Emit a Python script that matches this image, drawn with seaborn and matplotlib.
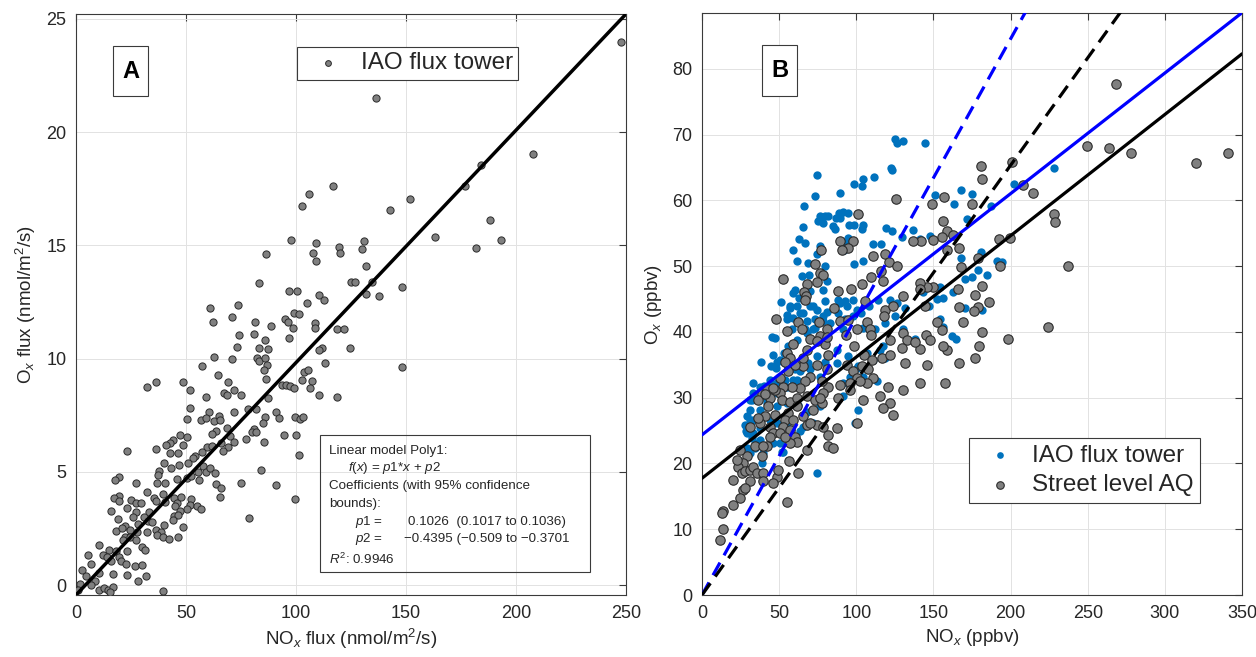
import numpy as np
import pandas as pd
import seaborn as sns
import matplotlib
matplotlib.use("Agg")
import matplotlib.pyplot as plt
from matplotlib.patches import Rectangle

# ---- panel A: flux tower, NOx flux vs Ox flux (nmol/m2/s) ----
flux_nox = [
    74.3, 80.7, 85.7, 97.0, 73.1, 83.0, 87.2, 62.5, 71.1, 82.2,
    83.4, 85.7, 57.2, 86.8, 85.3, 64.5, 86.3, 69.3, 48.5, 36.2,
    32.4, 51.7, 71.6, 67.2, 68.6, 75.2, 59.3, 87.2, 93.6, 95.6,
    97.4, 99.2, 103.8, 105.3, 102.7, 107.3, 106.5, 51.8, 60.4, 71.6,
    78.0, 81.9, 50.3, 56.9, 59.1, 62.9, 64.8, 65.5, 90.9, 92.1,
    86.0, 84.8, 99.7, 101.7, 103.3, 68.6, 63.7, 62.0, 47.3, 50.3,
    44.3, 42.7, 48.8, 40.9, 80.7, 80.0, 81.8, 77.2, 85.4, 94.4,
    100.2, 70.2, 71.6, 69.3, 66.6, 66.0, 59.6, 61.7, 57.2, 54.1,
    53.1, 51.1, 23.4, 36.2, 42.6, 46.4, 39.8, 43.2, 47.0, 37.9,
    37.4, 37.0, 40.5, 46.1, 50.3, 52.1, 55.6, 55.9, 57.6, 59.1,
    60.7, 63.4, 84.2, 101.2, 63.8, 66.0, 65.5, 75.1, 90.9, 99.7,
    78.6, 19.5, 17.8, 27.4, 32.4, 19.6, 17.2, 19.5, 25.1, 27.2,
    29.7, 35.6, 36.2, 39.7, 40.3, 44.4, 46.1, 47.7, 52.1, 51.8,
    50.3, 54.9, 56.9, 45.2, 47.3, 44.7, 46.2, 16.1, 23.3, 27.2,
    33.2, 26.0, 19.0, 31.0, 32.6, 34.4, 40.0, 44.3, 48.5, 28.3,
    22.4, 18.1, 20.7, 24.5, 27.5, 32.1, 36.2, 38.5, 36.7, 39.4,
    42.3, 46.5, 22.4, 21.5, 24.5, 27.1, 30.1, 31.5, 10.4, 15.1,
    18.0, 12.3, 13.9, 16.0, 5.5, 7.0, 16.6, 19.5, 23.0, 20.6,
    22.5, 26.6, 30.0, 23.3, 32.0, 28.0, 10.5, 2.8, 8.7, 4.5,
    1.7, 7.0, 10.5, 12.6, 14.6, 16.9, 39.7, 15.4, 1.0,
    116.7, 105.8, 102.9, 151.9, 142.5, 163.0, 97.6, 109.3, 119.6, 119.9,
    107.6, 109.1, 130.7, 130.1, 131.9, 86.5, 83.4, 125.1, 126.9, 134.5,
    131.9, 137.7, 148.0, 96.8, 100.6, 105.2, 110.6, 112.9, 73.6, 61.0,
    71.1, 62.3, 81.5, 95.1, 96.5, 98.9, 101.2, 88.6, 98.6, 108.8,
    108.8, 118.5, 121.7, 112.0, 110.6, 124.7, 113.4, 148.0, 110.6, 118.7,
    247.7, 136.2, 207.9, 184.3, 176.7, 188.0, 181.7, 193.1,
]
flux_ox = [
    11.06, 11.09, 10.83, 10.92, 10.49, 10.45, 10.43, 10.08, 9.98, 10.04,
    9.89, 10.01, 9.67, 9.73, 9.51, 9.26, 9.10, 8.96, 8.97, 8.98,
    8.74, 8.62, 8.63, 8.49, 8.41, 8.38, 8.30, 8.24, 8.81, 8.81,
    8.78, 8.71, 9.39, 9.48, 9.04, 9.03, 8.69, 7.83, 7.64, 7.65,
    7.78, 7.78, 7.31, 7.27, 7.37, 7.24, 7.46, 7.29, 7.64, 7.39,
    7.42, 7.14, 7.43, 7.31, 7.43, 6.92, 6.80, 6.68, 6.63, 6.55,
    6.41, 6.25, 6.19, 6.17, 6.90, 6.77, 6.77, 6.46, 6.33, 6.61,
    6.64, 6.58, 6.33, 6.10, 5.92, 6.29, 6.08, 6.14, 5.88, 5.70,
    5.59, 5.41, 5.92, 5.99, 5.82, 5.82, 5.37, 5.16, 5.31, 5.04,
    4.88, 4.50, 4.52, 4.68, 4.74, 4.82, 4.97, 4.65, 5.26, 5.00,
    5.15, 4.93, 5.07, 5.73, 4.46, 4.27, 3.90, 4.50, 4.43, 3.78,
    2.98, 4.79, 4.65, 4.52, 4.11, 3.94, 3.83, 3.73, 3.74, 3.62,
    3.62, 3.83, 3.71, 4.00, 3.67, 3.84, 3.64, 3.87, 3.80, 3.55,
    3.36, 3.51, 3.36, 3.51, 3.29, 3.07, 3.10, 3.26, 3.39, 3.24,
    3.24, 2.99, 2.92, 3.02, 2.82, 2.77, 2.67, 2.88, 2.57, 2.70,
    2.60, 2.38, 2.52, 2.41, 2.33, 2.33, 2.42, 2.33, 2.19, 2.14,
    2.04, 2.10, 2.11, 2.01, 2.11, 1.97, 1.67, 1.56, 1.75, 1.56,
    1.50, 1.34, 1.23, 1.06, 1.34, 0.91, 0.50, 1.22, 1.50, 1.06,
    0.91, 0.84, 0.90, 0.43, 0.40, 0.18, 0.55, 0.65, 0.18, 0.40,
    0.06, -0.01, -0.23, -0.13, -0.20, -0.08, -0.27, -0.30, -0.23,
    17.60, 17.25, 16.72, 17.06, 16.55, 15.36, 15.24, 15.12, 14.92, 14.64,
    14.64, 14.29, 15.21, 14.83, 14.08, 14.61, 13.34, 13.40, 13.40, 13.40,
    12.84, 12.77, 13.18, 12.96, 12.96, 12.47, 12.82, 12.58, 12.38, 12.24,
    11.83, 11.62, 11.62, 11.74, 11.62, 12.03, 11.97, 11.45, 11.34, 11.57,
    11.37, 11.30, 11.32, 10.48, 10.36, 10.45, 9.81, 9.63, 8.40, 8.30,
    23.98, 21.52, 19.03, 18.55, 17.60, 16.10, 14.90, 15.24,
]
poly1 = (0.1026, -0.4395)  # p1, p2

# ---- panel B: NOx vs Ox mixing ratios (ppbv) ----
iao_nox = [
    125.1, 130.0, 126.1, 74.3, 122.7, 123.3, 98.7, 104.3, 103.9, 111.7,
    89.2, 73.0, 66.3, 76.5, 79.7, 81.9, 89.0, 91.6, 94.4, 86.8,
    89.4, 75.4, 78.6, 95.5, 98.5, 104.5, 103.5, 85.1, 86.4, 65.7,
    62.6, 67.0, 58.8, 61.8, 68.9, 74.3, 79.7, 76.5, 94.8, 92.7,
    92.0, 98.7, 104.5, 111.0, 116.2, 119.0, 122.9, 129.4, 64.6, 69.6,
    60.3, 59.2, 63.1, 70.0, 78.6, 80.8, 51.2, 57.0, 61.3, 65.7,
    70.0, 74.3, 79.7, 88.3, 92.7, 98.1, 93.7, 100.2, 55.3, 58.8,
    62.4, 67.8, 73.2, 78.6, 88.3, 92.7, 98.1, 102.8, 108.4, 114.3,
    121.8, 126.1, 131.5, 45.6, 58.1, 66.7, 72.1, 83.0, 91.6, 104.5,
    112.1, 118.6, 125.1, 130.5,
    38.0, 44.9, 48.4, 54.9, 60.3, 65.7, 70.0, 79.7, 87.3, 94.8,
    106.7, 117.5, 118.6, 100.2, 104.5, 76.5, 61.3, 53.8, 48.4, 43.0,
    37.6, 33.3, 32.2, 36.5, 41.9, 48.4, 54.9, 62.4, 67.8, 76.5,
    91.6, 101.3, 113.2, 31.1, 29.0, 33.3, 27.9, 29.0, 33.3, 37.6,
    44.1, 48.4, 54.9, 65.7, 72.1, 63.5, 46.2, 51.6, 36.5, 32.2,
    39.7, 29.0, 99.1, 74.3, 38.7, 31.1,
    228.3, 202.1, 168.0, 175.2, 163.3, 187.2, 171.5, 180.6, 167.8, 179.0,
    184.4, 190.9, 194.6, 170.4, 174.7, 162.8, 156.4, 170.4, 181.2, 154.2,
    156.4, 161.8, 164.6, 154.2, 144.5, 151.0, 147.8, 141.3, 136.7, 147.0,
    138.0, 152.0, 143.0,
    31.1, 33.2, 40.2, 44.0, 47.9, 50.5, 53.1, 55.9, 61.3, 67.8,
    73.2, 78.2, 54.8, 57.0, 63.5, 72.1, 80.8, 89.4, 47.3, 46.2,
    28.5, 31.1, 37.6, 41.9, 48.4, 54.8, 59.2, 63.5, 68.9, 74.3,
    50.5, 52.7, 54.8, 37.6, 34.3, 91.6, 95.9, 101.3, 111.0, 115.3,
    87.2,
]
iao_ox = [
    69.4, 69.0, 68.8, 63.8, 65.0, 64.7, 62.5, 63.2, 62.2, 63.6,
    61.2, 60.7, 59.1, 57.6, 57.7, 57.6, 58.1, 58.2, 58.1, 57.3,
    57.3, 56.8, 56.6, 56.3, 56.2, 56.2, 55.7, 56.1, 55.7, 55.9,
    54.1, 53.5, 52.4, 50.8, 50.5, 51.8, 50.0, 53.0, 54.3, 53.5,
    52.5, 50.4, 50.8, 53.3, 53.3, 55.8, 55.3, 54.5, 48.5, 48.7,
    46.4, 45.9, 45.2, 46.2, 46.4, 47.7, 44.5, 43.7, 43.9, 42.9,
    43.9, 43.3, 44.7, 44.9, 44.7, 44.9, 43.9, 43.4, 42.6, 42.1,
    41.6, 41.6, 41.9, 42.4, 42.9, 41.9, 42.4, 42.9, 44.0, 44.9,
    44.9, 44.4, 43.7, 39.2, 40.4, 40.4, 40.4, 41.4, 40.4, 40.6,
    40.4, 41.4, 42.4, 40.4,
    35.4, 34.8, 35.5, 35.0, 34.3, 35.8, 34.3, 35.5, 35.3, 36.3,
    36.8, 37.8, 36.0, 34.5, 33.2, 33.2, 32.7, 32.7, 32.2, 31.7,
    31.7, 30.7, 29.7, 29.7, 29.2, 28.7, 29.2, 28.9, 27.9, 28.7,
    30.2, 28.2, 32.5, 28.2, 27.2, 26.6, 25.9, 24.6, 24.6, 25.4,
    26.6, 26.1, 25.6, 25.6, 26.1, 24.9, 23.1, 21.8, 23.1, 23.9,
    21.6, 22.3, 26.1, 18.5, 20.1, 21.6,
    65.0, 62.5, 61.6, 61.0, 59.5, 59.1, 57.2, 52.1, 51.3, 49.4,
    48.6, 50.8, 50.6, 48.1, 48.4, 46.1, 45.2, 43.7, 43.4, 46.9,
    40.8, 39.4, 38.9, 41.9, 68.7, 60.9, 54.6, 54.1, 55.5, 44.0,
    39.0, 45.0, 46.0,
    29.7, 32.2, 31.8, 32.7, 34.5, 35.8, 36.8, 37.8, 38.8, 39.8,
    40.6, 41.6, 41.9, 43.9, 42.9, 43.9, 43.1, 44.4, 39.1, 36.5,
    24.9, 26.6, 28.2, 29.7, 30.7, 31.7, 32.7, 34.0, 35.3, 36.3,
    23.1, 21.8, 23.6, 23.6, 22.3, 32.2, 33.2, 34.8, 35.8, 37.3,
    37.3,
]
street_nox = [
    125.5, 100.9, 89.4, 98.1, 94.8, 90.5, 76.9, 73.2, 76.5, 78.6,
    74.3, 67.8, 52.3, 66.1, 67.4, 66.7, 88.3, 96.3, 103.5, 109.3,
    115.8, 117.5, 110.6, 118.6, 121.4, 126.1, 85.5, 105.6, 118.6, 124.0,
    130.0, 47.9, 55.3, 62.4, 64.6, 75.8, 80.8, 76.5, 89.4, 94.8,
    100.2, 106.7, 108.9, 117.9, 130.5, 59.2, 70.0, 79.7, 93.3, 98.5,
    109.5, 121.8, 132.6,
    105.0, 110.4, 116.4, 121.8, 129.4, 131.5, 55.3, 57.0, 53.8, 65.7,
    74.3, 80.8, 81.9, 93.7, 98.1, 100.2, 103.5, 107.8, 111.0, 106.7,
    102.4, 95.9, 89.4, 88.3, 104.5, 115.3, 120.7, 121.8, 130.5, 117.5,
    124.0, 95.9, 81.9, 77.5, 70.0, 66.7, 63.5, 58.1, 52.7, 50.5,
    47.3, 41.9, 38.7, 44.1, 43.0, 51.6, 57.0, 61.3, 67.8, 73.2,
    78.6, 77.5, 76.5, 72.1, 65.7, 61.3, 56.0, 53.8, 52.7, 47.3,
    40.8, 37.6, 36.5, 44.1, 46.2, 50.5, 57.0, 60.3, 61.3, 57.0,
    53.8, 44.1, 41.9, 38.7, 34.3, 29.0, 26.8, 23.5, 25.7, 27.9,
    31.1, 33.3, 35.4, 39.7, 48.4, 56.6, 62.4, 67.8, 74.3, 78.6,
    81.9, 81.9, 85.1, 87.3, 100.2, 31.1, 26.8, 27.9, 24.6, 20.3,
    13.8, 12.7, 13.4, 11.7, 39.7, 46.2, 49.5, 55.3, 39.7, 67.8,
    70.0, 59.2,
    268.2, 249.7, 263.7, 278.2, 320.5, 341.0, 180.6, 181.8, 201.1, 207.8,
    214.7, 156.8, 175.2, 155.9, 158.9, 162.8, 155.3, 158.9, 166.7, 228.3,
    228.7, 192.6, 199.6, 179.0, 167.6, 193.1, 237.4, 166.1, 181.8, 176.9,
    166.7, 179.0, 176.5, 186.2, 168.9, 224.4, 198.5, 181.8, 179.7, 176.9,
    166.7, 158.5, 156.4, 157.4, 155.3, 148.9, 149.9, 141.7, 137.0, 150.0,
    145.6, 141.3, 141.3, 145.0, 148.0, 141.5, 146.0, 141.0, 152.5, 144.5,
    138.0,
    36.5, 40.8, 46.2, 50.5, 55.9, 60.2, 65.6, 67.8, 74.3, 80.8,
    31.1, 24.6, 22.4, 19.8,
]
street_ox = [
    60.2, 58.0, 53.8, 53.9, 52.8, 52.4, 52.5, 50.4, 49.0, 48.6,
    47.6, 47.3, 48.0, 46.0, 45.4, 44.9, 46.2, 46.5, 47.3, 48.3,
    49.2, 47.7, 51.5, 51.9, 50.6, 50.0, 43.6, 44.7, 43.4, 43.9,
    45.5, 41.9, 40.1, 41.5, 40.4, 41.5, 40.4, 39.4, 41.6, 41.8,
    40.4, 41.5, 40.5, 42.4, 39.8, 38.1, 38.9, 38.1, 39.5, 37.8,
    39.6, 38.8, 38.8,
    36.5, 35.8, 36.0, 36.5, 37.5, 35.3, 36.8, 36.0, 35.5, 34.8,
    35.0, 34.3, 36.5, 35.0, 34.0, 33.0, 34.8, 34.3, 33.0, 32.2,
    32.5, 32.2, 32.0, 29.9, 29.7, 30.2, 31.7, 29.2, 31.2, 28.4,
    27.4, 31.2, 31.7, 32.5, 33.2, 32.5, 31.5, 31.7, 31.6, 30.7,
    31.2, 31.3, 30.6, 29.9, 28.7, 29.7, 29.4, 29.9, 30.2, 29.7,
    30.7, 29.2, 29.9, 28.2, 27.2, 28.7, 27.7, 26.6, 25.6, 27.4,
    27.2, 26.1, 26.9, 25.6, 24.6, 24.6, 25.1, 24.1, 23.3, 23.1,
    24.1, 24.1, 22.6, 21.1, 22.6, 21.1, 20.1, 19.5, 18.5, 18.8,
    19.0, 19.5, 18.5, 18.5, 18.0, 20.4, 18.5, 22.1, 25.9, 25.6,
    24.4, 22.6, 22.3, 25.4, 26.1, 17.3, 16.0, 16.3, 14.7, 13.7,
    12.7, 12.5, 10.0, 8.4, 17.3, 17.0, 19.0, 14.2, 22.6, 25.9,
    26.1, 26.6,
    77.7, 68.3, 67.9, 67.2, 65.7, 67.2, 65.2, 63.2, 65.9, 62.4,
    61.2, 60.5, 59.5, 56.8, 55.3, 54.7, 54.5, 52.5, 52.8, 57.9,
    56.7, 54.1, 54.3, 51.3, 49.9, 50.0, 50.0, 46.5, 47.0, 45.6,
    43.8, 43.8, 43.2, 44.6, 41.5, 40.7, 38.9, 40.0, 37.9, 36.0,
    35.3, 37.3, 37.8, 32.2, 40.3, 59.5, 54.0, 53.9, 53.8, 46.9,
    46.9, 47.5, 46.5, 39.5, 38.8, 37.4, 35.0, 32.3, 41.5, 44.0,
    38.5,
    29.7, 30.5, 31.5, 33.0, 34.0, 35.0, 36.0, 37.3, 38.6, 39.3,
    25.6, 22.1, 20.6, 17.5,
]
# fitted lines: (slope, intercept) and slopes of the zero-intercept fits
iao_fit = (0.1834, 24.35)
street_fit = (0.1844, 17.75)
iao_origin_slope = 0.4228
street_origin_slope = 0.3267

sns.set_style("whitegrid")
plt.rcParams['font.family'] = ['Liberation Sans', 'DejaVu Sans']
plt.rcParams['mathtext.fontset'] = 'custom'
plt.rcParams['mathtext.rm'] = 'Liberation Sans'
plt.rcParams['mathtext.it'] = 'Liberation Sans:italic'
plt.rcParams['mathtext.bf'] = 'Liberation Sans:bold'

W, H = 1256, 657
fig = plt.figure(figsize=(W / 100, H / 100), dpi=100)
axA = fig.add_axes([76 / W, 62 / H, 550 / W, 581 / H])
axB = fig.add_axes([702 / W, 62 / H, 540 / W, 582 / H])

grey = '#808080'
edge = '#2b2b2b'
txt = '#262626'


def style_axes(ax):
    ax.set_axisbelow(True)
    ax.grid(True, color='#e2e2e2', linewidth=0.7)
    for sp in ax.spines.values():
        sp.set_color('#3a3a3a')
        sp.set_linewidth(0.8)
    ax.tick_params(direction='in', length=5, width=0.8, top=True, right=True,
                   labelsize=13, labelcolor=txt, color='#3a3a3a', pad=7)


# ---- panel A ----
dfA = pd.DataFrame({'nox': flux_nox, 'ox': flux_ox})
sns.scatterplot(data=dfA, x='nox', y='ox', ax=axA, s=27, color=grey,
                edgecolor=edge, linewidth=0.7, label='IAO flux tower', zorder=3)
xa = np.array([0, 250])
axA.plot(xa, poly1[0] * xa + poly1[1], color='black', lw=2.5, zorder=4)
axA.set_xlim(0, 250)
axA.set_ylim(poly1[1], poly1[0] * 250 + poly1[1])
axA.set_xticks(np.arange(0, 251, 50))
axA.set_yticks(np.arange(0, 26, 5))
style_axes(axA)
axA.set_xlabel('NO$_x$ flux (nmol/m$^2$/s)', fontsize=13.5, color=txt, labelpad=4)
axA.set_ylabel('O$_x$ flux (nmol/m$^2$/s)', fontsize=13.5, color=txt, labelpad=6)
legA = axA.legend(loc='upper left', bbox_to_anchor=(297 / W, 1 - 47 / H),
                  bbox_transform=fig.transFigure, fontsize=17.5, frameon=True,
                  fancybox=False, framealpha=1, edgecolor='#3a3a3a',
                  borderpad=0.22, handlelength=2.1, handletextpad=0.3,
                  markerscale=0.8, borderaxespad=0)
legA.get_frame().set_linewidth(0.8)

# ---- panel B ----
sns.scatterplot(x=iao_nox, y=iao_ox, ax=axB, s=36, color='#0072BD',
                linewidth=0, label='IAO flux tower', zorder=3)
sns.scatterplot(x=street_nox, y=street_ox, ax=axB, s=46, color=grey,
                edgecolor=edge, linewidth=0.8, label='Street level AQ', zorder=3)
xb = np.array([0, 350])
axB.plot(xb, iao_fit[0] * xb + iao_fit[1], color='#0000FF', lw=2.3, zorder=4)
axB.plot(xb, street_fit[0] * xb + street_fit[1], color='black', lw=2.3, zorder=4)
axB.plot(xb, iao_origin_slope * xb, color='#0000FF', lw=2.3, ls=(0, (4.5, 2.6)), zorder=4)
axB.plot(xb, street_origin_slope * xb, color='black', lw=2.3, ls=(0, (4.5, 2.6)), zorder=4)
axB.set_xlim(0, 350)
axB.set_ylim(0, 88.5)
axB.set_xticks(np.arange(0, 351, 50))
axB.set_yticks(np.arange(0, 81, 10))
style_axes(axB)
axB.set_xlabel('NO$_x$ (ppbv)', fontsize=13.5, color=txt, labelpad=4)
axB.set_ylabel('O$_x$ (ppbv)', fontsize=13.5, color=txt, labelpad=6)
legB = axB.legend(loc='upper left', bbox_to_anchor=(969 / W, 1 - 438 / H),
                  bbox_transform=fig.transFigure, fontsize=17.5, frameon=True,
                  fancybox=False, framealpha=1, edgecolor='#3a3a3a',
                  borderpad=0.28, handlelength=2.0, handletextpad=0.3,
                  labelspacing=0.3, markerscale=0.8, borderaxespad=0)
legB.get_frame().set_linewidth(0.8)

# panel letters
for (x0, y0, x1, y1, letter) in [(113, 46, 148, 96, 'A'), (762, 45, 797, 96, 'B')]:
    fig.add_artist(Rectangle((x0 / W, 1 - y1 / H), (x1 - x0) / W, (y1 - y0) / H,
                             transform=fig.transFigure, fill=True, facecolor='white',
                             edgecolor='#3a3a3a', lw=0.8))
    fig.text((x0 + x1) / 2 / W, 1 - (y0 + y1) / 2 / H, letter, fontsize=17,
             fontweight='bold', ha='center', va='center', color='black')

# fit summary box in panel A
fig.add_artist(Rectangle((320 / W, 1 - 572 / H), 270 / W, 137 / H,
                         transform=fig.transFigure, fill=False,
                         edgecolor='#3a3a3a', lw=0.8))
fit_lines = [
    (329, 450.7, 'Linear model Poly1:'),
    (348, 468.3, '$f$($x$) = $p$1*$x$ + $p$2'),
    (329, 485.7, 'Coefficients (with 95% confidence'),
    (329, 504.0, 'bounds):'),
    (355, 521.7, '$p$1 ='),
    (408, 521.7, '0.1026  (0.1017 to 0.1036)'),
    (355, 539.3, '$p$2 ='),
    (404, 539.3, '\u22120.4395 (\u22120.509 to \u22120.3701'),
    (329, 559.0, '$R^2$: 0.9946'),
]
for (px, py, s) in fit_lines:
    fig.text(px / W, 1 - py / H, s, fontsize=9.6, color=txt, ha='left', va='center')

fig.savefig('out.png', dpi=100)
